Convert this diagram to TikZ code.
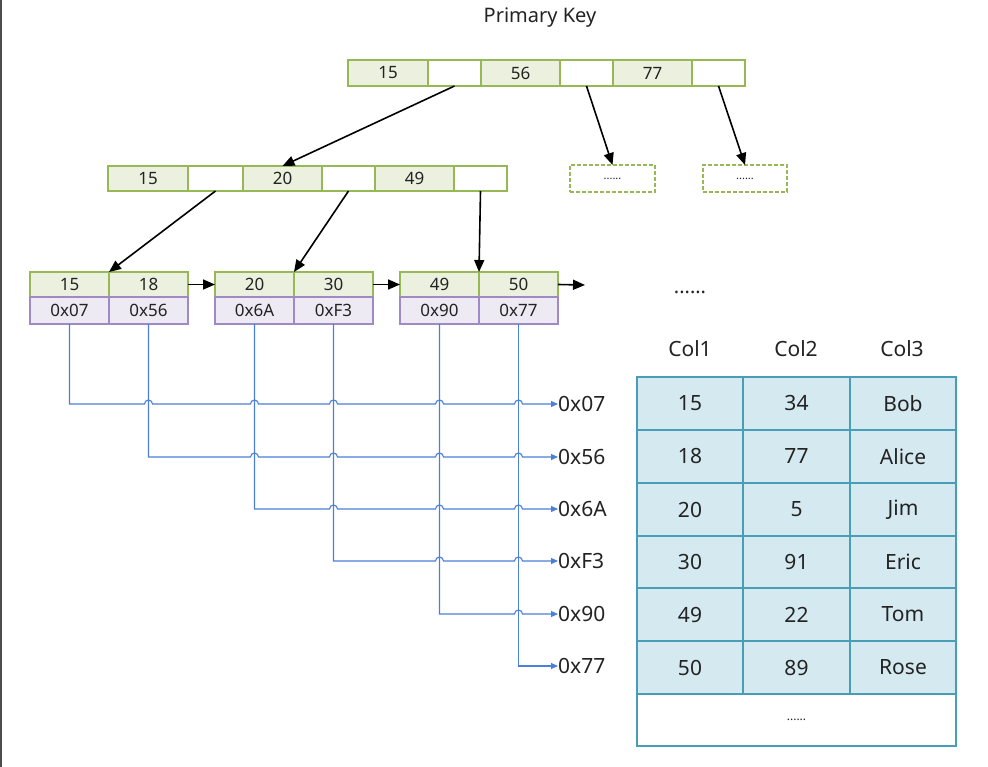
\documentclass[tikz,border=0pt]{standalone}
\usepackage{fontspec}
\setmainfont{Noto Sans}
\usetikzlibrary{arrows.meta}
\definecolor{gfill}{RGB}{235,241,222}
\definecolor{gline}{RGB}{150,185,85}
\definecolor{pfill}{RGB}{238,234,243}
\definecolor{pline}{RGB}{160,138,198}
\definecolor{tfill}{RGB}{212,234,240}
\definecolor{tline}{RGB}{72,158,182}
\definecolor{bline}{RGB}{74,128,218}
\definecolor{txt}{RGB}{35,35,35}
\newcommand{\cellbox}[7]{\node[#2, minimum width={(#5-#3)*1pt}, minimum height={(#6-#4)*1pt}] (#1) at ({(#3+#5)/2},{(#4+#6)/2}) {#7};}
\begin{document}
\begin{tikzpicture}[x=1pt,y=-1pt,
  cell/.style={draw, line width=1.8pt, inner sep=0pt, outer sep=0pt, text=txt, font=\fontsize{17}{17}\selectfont},
  gcell/.style={cell, draw=gline, fill=gfill},
  wcell/.style={cell, draw=gline, fill=white},
  pcell/.style={cell, draw=pline, fill=pfill, line width=1.6pt},
  dcell/.style={cell, draw=gline, dashed, dash pattern=on 4pt off 2pt, font=\bfseries\fontsize{11}{11}\selectfont},
  tcell/.style={draw=tline, line width=1.8pt, fill=tfill, inner sep=0pt, outer sep=0pt, text=txt, font=\fontsize{21}{21}\selectfont},
  lbl/.style={text=txt, font=\fontsize{21}{21}\selectfont, inner sep=0pt},
  arr/.style={line width=1.6pt, -{Triangle[length=12pt,width=10pt]}},
  bl/.style={draw=bline, line width=1.1pt},
  blarr/.style={bl, -{Triangle[length=7pt,width=6pt]}}
]
\useasboundingbox (0,0) rectangle (988,767);
\fill[white] (0,0) rectangle (988,767);
\draw[black!70, line width=2pt] (1,0) -- (1,767);

\node[lbl, font=\fontsize{20}{20}\selectfont] (title) at (540,18) {Primary Key};

% top row
\cellbox{t1}{gcell}{348}{60}{428}{86}{15}
\cellbox{t1w}{wcell}{428}{60}{481}{86}{}
\cellbox{t2}{gcell}{481}{60}{560}{86}{56}
\cellbox{t2w}{wcell}{560}{60}{613}{86}{}
\cellbox{t3}{gcell}{613}{60}{692}{86}{77}
\cellbox{t3w}{wcell}{692}{60}{745}{86}{}

% second row
\cellbox{s1}{gcell}{108}{166}{188}{191}{15}
\cellbox{s1w}{wcell}{188}{166}{243}{191}{}
\cellbox{s2}{gcell}{243}{166}{322}{191}{20}
\cellbox{s2w}{wcell}{322}{166}{375}{191}{}
\cellbox{s3}{gcell}{375}{166}{454}{191}{49}
\cellbox{s3w}{wcell}{454}{166}{507}{191}{}

\cellbox{d1}{dcell}{570}{165}{655}{192}{......}
\cellbox{d2}{dcell}{703}{165}{787}{192}{......}

% leaves
\cellbox{l1a}{gcell}{30}{272}{109}{297}{15}
\cellbox{l1b}{gcell}{109}{272}{188}{297}{18}
\cellbox{p1}{pcell}{30}{297}{109}{324}{0x07}
\cellbox{p2}{pcell}{109}{297}{188}{324}{0x56}
\cellbox{l2a}{gcell}{215}{272}{294}{297}{20}
\cellbox{l2b}{gcell}{294}{272}{373}{297}{30}
\cellbox{p3}{pcell}{215}{297}{294}{324}{0x6A}
\cellbox{p4}{pcell}{294}{297}{373}{324}{0xF3}
\cellbox{l3a}{gcell}{400}{272}{479}{297}{49}
\cellbox{l3b}{gcell}{479}{272}{558}{297}{50}
\cellbox{p5}{pcell}{400}{297}{479}{324}{0x90}
\cellbox{p6}{pcell}{479}{297}{558}{324}{0x77}
\coordinate (lend) at (585,285);

% tree arrows
\draw[arr] (t1w.south) -- (s2.north);
\draw[arr] (t2w.south) -- (d1.north);
\draw[arr] (t3w.south) -- (d2.north);
\draw[arr] (s1w.south) -- (l1a.north east);
\draw[arr] (s2w.south) -- (l2a.north east);
\draw[arr] (s3w.south) -- (l3a.north east);
\draw[arr] (l1b.east) -- (l2a.west);
\draw[arr] (l2b.east) -- (l3a.west);
\draw[arr] (l3b.east) -- (lend);

% address labels
\node[lbl, anchor=west] (a1) at (558,404) {0x07};
\node[lbl, anchor=west] (a2) at (558,457) {0x56};
\node[lbl, anchor=west] (a3) at (558,509) {0x6A};
\node[lbl, anchor=west] (a4) at (558,561) {0xF3};
\node[lbl, anchor=west] (a5) at (558,614) {0x90};
\node[lbl, anchor=west] (a6) at (558,666) {0x77};

% blue pointer lines with hops
\draw[blarr] (p1.south) -- (p1.south |- a1.west)
  \foreach \j in {2,3,4,5,6} { -- ([xshift=-4pt]p\j.south |- a1.west) arc[start angle=180,end angle=0,radius=4pt] } -- (a1.west);
\draw[blarr] (p2.south) -- (p2.south |- a2.west)
  \foreach \j in {3,4,5,6} { -- ([xshift=-4pt]p\j.south |- a2.west) arc[start angle=180,end angle=0,radius=4pt] } -- (a2.west);
\draw[blarr] (p3.south) -- (p3.south |- a3.west)
  \foreach \j in {4,5,6} { -- ([xshift=-4pt]p\j.south |- a3.west) arc[start angle=180,end angle=0,radius=4pt] } -- (a3.west);
\draw[blarr] (p4.south) -- (p4.south |- a4.west)
  \foreach \j in {5,6} { -- ([xshift=-4pt]p\j.south |- a4.west) arc[start angle=180,end angle=0,radius=4pt] } -- (a4.west);
\draw[blarr] (p5.south) -- (p5.south |- a5.west)
  -- ([xshift=-4pt]p6.south |- a5.west) arc[start angle=180,end angle=0,radius=4pt] -- (a5.west);
\draw[blarr] (p6.south) -- (p6.south |- a6.west) -- (a6.west);

% table
\node[lbl, font=\bfseries\fontsize{20}{20}\selectfont] (dots) at (690,292) {......};
\node[lbl] (h1) at (690,349) {Col1};
\node[lbl] (h2) at (796,349) {Col2};
\node[lbl] (h3) at (902,349) {Col3};
\foreach \r/\ya/\yb/\c/\d/\e in {1/377/430/15/34/Bob, 2/430/483/18/77/Alice, 3/483/536/20/5/Jim, 4/536/588/30/91/Eric, 5/588/641/49/22/Tom, 6/641/694/50/89/Rose} {
  \cellbox{c\r a}{tcell}{637}{\ya}{743}{\yb}{\c}
  \cellbox{c\r b}{tcell}{743}{\ya}{850}{\yb}{\d}
  \cellbox{c\r c}{tcell}{850}{\ya}{956}{\yb}{\e}
}
\cellbox{c7}{tcell, fill=white, font=\bfseries\fontsize{12}{12}\selectfont}{637}{694}{956}{746}{......}
\end{tikzpicture}
\end{document}
